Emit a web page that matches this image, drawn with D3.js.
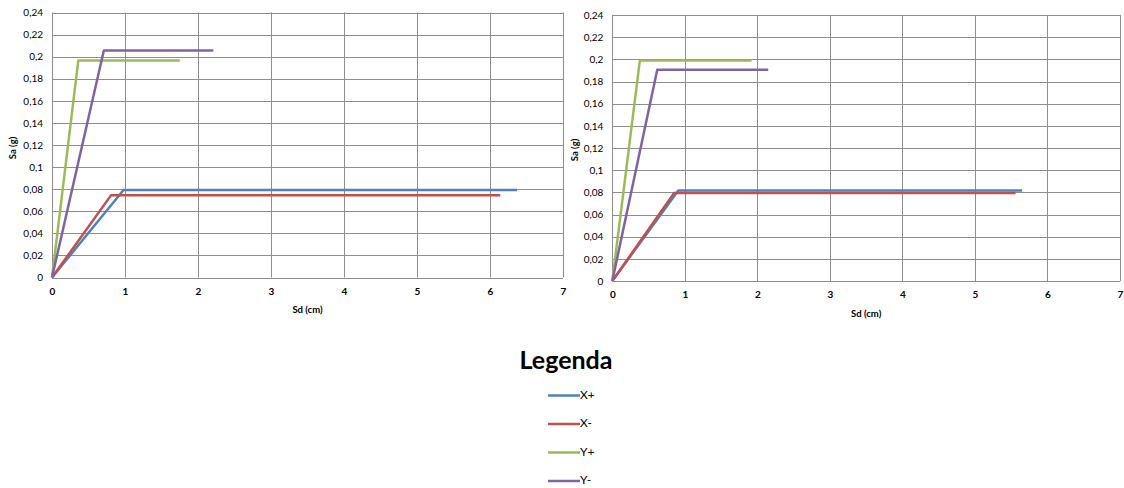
<!DOCTYPE html>
<html>
<head>
<meta charset="utf-8">
<script src="https://cdn.jsdelivr.net/npm/d3@7"></script>
<style>
  html, body { margin: 0; padding: 0; background: #fff; }
  svg { display: block; }
  text { font-family: Lato, "Open Sans", sans-serif; fill: #000; }
</style>
</head>
<body>
<svg id="chart" width="1124" height="488"></svg>
<script>
// Capacity curves (Sd in cm, Sa in g) for the two analysed directions
const seriesNames = ["X+", "X-", "Y+", "Y-"];
const seriesColors = ["#4F81BD", "#C0504D", "#9BBB59", "#8064A2"];

const xTicks = [0, 1, 2, 3, 4, 5, 6, 7];
const xTickLabels = ["0", "1", "2", "3", "4", "5", "6", "7"];
const yTicks = [0, 0.02, 0.04, 0.06, 0.08, 0.1, 0.12, 0.14, 0.16, 0.18, 0.2, 0.22, 0.24];
const yTickLabels = ["0", "0,02", "0,04", "0,06", "0,08", "0,1", "0,12", "0,14", "0,16", "0,18", "0,2", "0,22", "0,24"];

// Left chart
const leftSd = [
  [0, 0.98, 6.37],   // X+
  [0, 0.81, 6.14],   // X-
  [0, 0.36, 1.75],   // Y+
  [0, 0.71, 2.21]    // Y-
];
const leftSa = [
  [0, 0.0793, 0.0793],
  [0, 0.0746, 0.0746],
  [0, 0.1965, 0.1965],
  [0, 0.2055, 0.2055]
];

// Right chart
const rightSd = [
  [0, 0.91, 5.65],
  [0, 0.85, 5.56],
  [0, 0.38, 1.92],
  [0, 0.62, 2.15]
];
const rightSa = [
  [0, 0.0817, 0.0817],
  [0, 0.0793, 0.0793],
  [0, 0.199, 0.199],
  [0, 0.1905, 0.1905]
];

const svg = d3.select("#chart");

function drawPanel(cfg, sdData, saData) {
  const x = d3.scaleLinear().domain([0, 7]).range([cfg.x0, cfg.x1]);
  const y = d3.scaleLinear().domain([0, 0.24]).range([cfg.y0, cfg.y1]);
  const g = svg.append("g");

  // gridlines
  g.selectAll(".hgrid").data(yTicks).join("line")
    .attr("x1", cfg.x0).attr("x2", cfg.x1)
    .attr("y1", d => Math.round(y(d)) + 0.5).attr("y2", d => Math.round(y(d)) + 0.5)
    .attr("stroke", "#8e8e8e").attr("stroke-width", 1);
  g.selectAll(".vgrid").data(xTicks).join("line")
    .attr("y1", cfg.y0).attr("y2", cfg.y1)
    .attr("x1", d => Math.round(x(d)) + 0.5).attr("x2", d => Math.round(x(d)) + 0.5)
    .attr("stroke", "#8e8e8e").attr("stroke-width", 1);

  // axes (labels only; grid supplies the lines)
  const yAxis = d3.axisLeft(y).tickValues(yTicks)
    .tickFormat((d, i) => yTickLabels[i]).tickSize(0).tickPadding(9);
  g.append("g").attr("transform", `translate(${cfg.x0},0)`).call(yAxis)
    .call(a => a.select(".domain").remove())
    .selectAll("text").style("font-size", "10px").style("font-family", "Lato, sans-serif");

  const xAxis = d3.axisBottom(x).tickValues(xTicks)
    .tickFormat((d, i) => xTickLabels[i]).tickSize(0).tickPadding(10);
  g.append("g").attr("transform", `translate(0,${cfg.y0})`).call(xAxis)
    .call(a => a.select(".domain").remove())
    .selectAll("text").style("font-size", "10px").style("font-family", "Lato, sans-serif")
    .style("font-weight", "bold");

  // axis titles
  g.append("text")
    .attr("transform", `translate(${cfg.yTitleX},${cfg.yTitleY}) rotate(-90)`)
    .attr("text-anchor", "middle").attr("dominant-baseline", "middle")
    .style("font-size", "9.5px").style("font-weight", "bold")
    .text("Sa (g)");
  g.append("text")
    .attr("x", (cfg.x0 + cfg.x1) / 2).attr("y", cfg.xTitleY)
    .attr("text-anchor", "middle").attr("dominant-baseline", "middle")
    .style("font-size", "9.5px").style("font-weight", "bold")
    .text("Sd (cm)");

  // curves
  const line = d3.line().x(d => x(d[0])).y(d => y(d[1]));
  seriesNames.forEach((name, i) => {
    const pts = sdData[i].map((sd, j) => [sd, saData[i][j]]);
    g.append("path").datum(pts)
      .attr("d", line)
      .attr("fill", "none")
      .attr("stroke", seriesColors[i])
      .attr("stroke-width", 2.5)
      .attr("stroke-linejoin", "round");
  });
}

drawPanel({ x0: 52, x1: 563, y0: 277.5, y1: 12.5, yTitleX: 14, yTitleY: 148, xTitleY: 311 }, leftSd, leftSa);
drawPanel({ x0: 612.3, x1: 1120, y0: 281, y1: 15, yTitleX: 576, yTitleY: 150, xTitleY: 315 }, rightSd, rightSa);

// legend
const legend = svg.append("g");
legend.append("text")
  .attr("x", 566).attr("y", 369)
  .attr("text-anchor", "middle")
  .style("font-size", "25px").style("font-weight", "bold")
  .text("Legenda");

const legendY = d3.scalePoint().domain(seriesNames).range([395.5, 481]);
seriesNames.forEach((name, i) => {
  legend.append("line")
    .attr("x1", 548).attr("x2", 580)
    .attr("y1", legendY(name)).attr("y2", legendY(name))
    .attr("stroke", seriesColors[i]).attr("stroke-width", 2.5);
  legend.append("text")
    .attr("x", 580).attr("y", legendY(name))
    .attr("dominant-baseline", "middle")
    .style("font-size", "12px")
    .text(name);
});
</script>
</body>
</html>
